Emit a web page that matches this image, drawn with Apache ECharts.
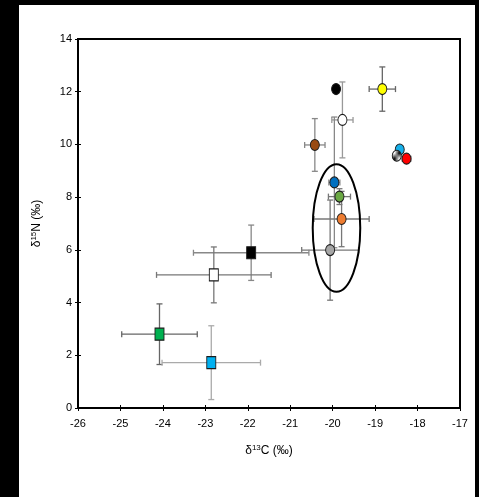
<!DOCTYPE html>
<html><head><meta charset="utf-8">
<script src="https://cdn.jsdelivr.net/npm/echarts@6/dist/echarts.min.js"></script>
<style>
html,body{margin:0;padding:0;background:#000;width:479px;height:497px;overflow:hidden}
#c{position:absolute;left:19px;top:5px;width:456px;height:492px;background:#fff}
</style></head><body><div id="c"></div>
<script>
// ---- data ----
const pointNames = ['black circle','white circle','yellow circle','brown circle','cyan circle','hatched circle','red circle',
  'blue circle','green circle','orange circle','grey circle','black square','white square','green square','cyan square'];
const xValues = [-19.92, -19.77, -18.83, -20.42, -18.42, -18.49, -18.26, -19.96, -19.84, -19.79, -20.06, -21.92, -22.80, -24.08, -22.86];
const yValues = [12.10, 10.93, 12.10, 9.98, 9.81, 9.57, 9.46, 8.56, 8.02, 7.17, 5.99, 5.89, 5.05, 2.80, 1.72];
const xErrors = [0, 0.25, 0.31, 0.24, 0, 0.08, 0.10, 0.13, 0.26, 0.65, 0.67, 1.36, 1.35, 0.89, 1.16];
const yErrors = [0, 1.44, 0.84, 1.00, 0, 0, 0, 2.48, 0.30, 1.05, 1.90, 1.05, 1.06, 1.15, 1.40];
const ellipseCenter = [-19.91, 6.83];
const ellipseRadii = [0.56, 2.42];

// ---- styles ----
const hatch = document.createElement('canvas');
hatch.width = 5; hatch.height = 5;
(function(){const g=hatch.getContext('2d');g.fillStyle='#fff';g.fillRect(0,0,5,5);g.strokeStyle='#000';g.lineWidth=1.3;
 g.beginPath();g.moveTo(-1,6);g.lineTo(6,-1);g.stroke();})();
const markerStyles = [
  {symbol:'circle', color:'#000000'},
  {symbol:'circle', color:'#ffffff'},
  {symbol:'circle', color:'#ffff00'},
  {symbol:'circle', color:'#994a12'},
  {symbol:'circle', color:'#16b0ea'},
  {symbol:'circle', color:{image:hatch, repeat:'repeat'}},
  {symbol:'circle', color:'#ff0000'},
  {symbol:'circle', color:'#0070c0'},
  {symbol:'circle', color:'#6aa843'},
  {symbol:'circle', color:'#ee7d31'},
  {symbol:'circle', color:'#a6a6a6'},
  {symbol:'rect', color:'#000000'},
  {symbol:'rect', color:'#ffffff'},
  {symbol:'rect', color:'#00b050'},
  {symbol:'rect', color:'#00b0f0'}
];
const errColors = ['#777','#999','#666','#888','#777','#555','#555','#888','#777','#777','#777','#888','#777','#666','#aaa'];

const font = "'Liberation Sans Narrow','Liberation Sans',Arial,sans-serif";
const chart = echarts.init(document.getElementById('c'), null, {renderer:'canvas'});

const scatterData = xValues.map((x,i)=>({
  name: pointNames[i], value:[x, yValues[i]],
  symbol: markerStyles[i].symbol,
  symbolSize: markerStyles[i].symbol==='rect' ? [9,12] : [9,11],
  itemStyle:{color: markerStyles[i].color, borderColor:'#1a1a1a', borderWidth:1, opacity:1}
}));
const errData = xValues.map((x,i)=>[x, yValues[i], xErrors[i], yErrors[i]]);

function renderErr(params, api){
  const x=api.value(0), y=api.value(1), xe=api.value(2), ye=api.value(3);
  const st = {stroke: errColors[params.dataIndex], lineWidth:1.3, fill:null};
  const cap = 3, ch=[];
  if (xe>0){
    const l=api.coord([x-xe,y]), r=api.coord([x+xe,y]);
    ch.push({type:'line',shape:{x1:l[0],y1:l[1],x2:r[0],y2:r[1]},style:st});
    ch.push({type:'line',shape:{x1:l[0],y1:l[1]-cap,x2:l[0],y2:l[1]+cap},style:st});
    ch.push({type:'line',shape:{x1:r[0],y1:r[1]-cap,x2:r[0],y2:r[1]+cap},style:st});
  }
  if (ye>0){
    const t=api.coord([x,y+ye]), b=api.coord([x,y-ye]);
    ch.push({type:'line',shape:{x1:t[0],y1:t[1],x2:b[0],y2:b[1]},style:st});
    ch.push({type:'line',shape:{x1:t[0]-cap,y1:t[1],x2:t[0]+cap,y2:t[1]},style:st});
    ch.push({type:'line',shape:{x1:b[0]-cap,y1:b[1],x2:b[0]+cap,y2:b[1]},style:st});
  }
  return {type:'group', children:ch};
}

const axisCommon = {
  axisLine:{show:true, onZero:false, lineStyle:{color:'#000', width:2}},
  axisTick:{show:true, length:3, lineStyle:{color:'#000', width:1}},
  splitLine:{show:false}
};

chart.setOption({
  animation:false,
  backgroundColor:'#fff',
  grid:{left:59, right:15, top:34, bottom:89, show:true, borderColor:'#000', borderWidth:2, backgroundColor:'transparent'},
  xAxis:[
    Object.assign({type:'value', min:-26, max:-17, interval:1, position:'bottom',
      axisLabel:{color:'#000', fontFamily:font, fontSize:11, margin:10},
      name:'{a|δ}{s|13}{a|C (‰)}', nameLocation:'middle', nameGap:36,
      nameTextStyle:{rich:{a:{fontFamily:"'Liberation Sans',Arial", fontSize:12, color:'#000', lineHeight:14},
                          s:{fontFamily:"'Liberation Sans',Arial", fontSize:8, color:'#000', lineHeight:14, verticalAlign:'top'}}}
    }, axisCommon),
    {type:'value', min:-26, max:-17, interval:1, position:'bottom', axisLine:{show:false},
      axisTick:{show:true, inside:true, length:3, lineStyle:{color:'#000'}}, axisLabel:{show:false}, splitLine:{show:false}}
  ],
  yAxis:[
    Object.assign({type:'value', min:0, max:14, interval:2, position:'left',
      axisLabel:{color:'#000', fontFamily:font, fontSize:11, margin:6},
      name:'{a|δ}{s|15}{a|N (‰)}', nameLocation:'middle', nameGap:34,
      nameTextStyle:{rich:{a:{fontFamily:"'Liberation Sans',Arial", fontSize:12, color:'#000', lineHeight:14},
                          s:{fontFamily:"'Liberation Sans',Arial", fontSize:8, color:'#000', lineHeight:14, verticalAlign:'top'}}}
    }, axisCommon),
    {type:'value', min:0, max:14, interval:2, position:'left', axisLine:{show:false},
      axisTick:{show:true, inside:true, length:3, lineStyle:{color:'#000'}}, axisLabel:{show:false}, splitLine:{show:false}}
  ],
  series:[
    {type:'custom', name:'errors', xAxisIndex:0, yAxisIndex:0, z:2, renderItem:renderErr, data:errData, silent:true},
    {type:'custom', name:'ellipse', xAxisIndex:0, yAxisIndex:0, z:3, silent:true,
      data:[[ellipseCenter[0], ellipseCenter[1], ellipseRadii[0], ellipseRadii[1]]],
      renderItem:function(params, api){
        const c=api.coord([api.value(0), api.value(1)]);
        const s=api.size([api.value(2), api.value(3)]);
        return {type:'ellipse', shape:{cx:c[0], cy:c[1], rx:s[0], ry:s[1]}, style:{fill:null, stroke:'#000', lineWidth:2}};
      }},
    {type:'scatter', name:'points', xAxisIndex:0, yAxisIndex:0, z:5, data:scatterData}
  ]
});
</script></body></html>
